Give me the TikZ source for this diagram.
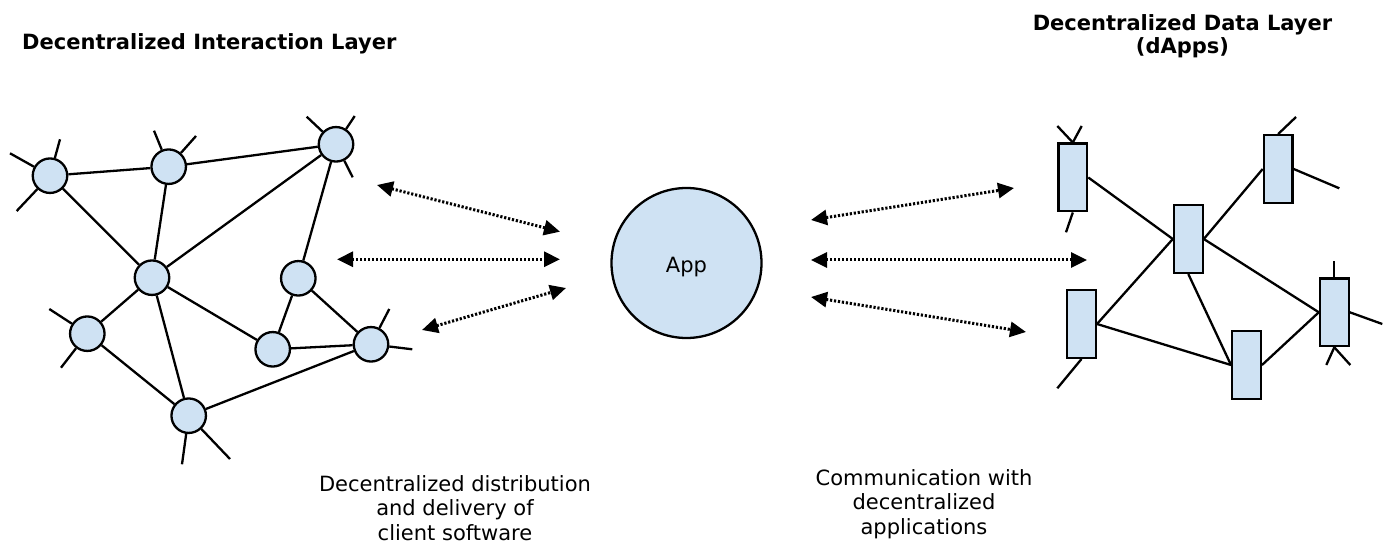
\documentclass[tikz,border=0pt]{standalone}
\usepackage{fontspec}
\setmainfont{DejaVu Sans}
\usetikzlibrary{arrows.meta}
\definecolor{nodefill}{RGB}{207,226,243}
\begin{document}
\begin{tikzpicture}[x=1pt,y=-1pt,
  peer/.style={circle,draw,line width=2.3pt,fill=nodefill,minimum size=34.5pt,inner sep=0pt},
  dnode/.style={rectangle,draw,line width=2.3pt,fill=nodefill,minimum width=28.7pt,minimum height=67.7pt,inner sep=0pt},
  link/.style={line width=2.3pt},
  flow/.style={line width=3pt,dash pattern=on 2.2pt off 1.8pt,{Triangle[length=16pt,width=15pt]}-{Triangle[length=16pt,width=15pt]}},
  title/.style={font=\fontsize{21}{23}\selectfont\bfseries,inner sep=0pt},
  caption/.style={font=\fontsize{21}{24.5}\selectfont,align=center,inner sep=0pt}]
\fill[white] (0,0) rectangle (1385,545);
\useasboundingbox (0,0) rectangle (1385,545);

% titles
\node[title,anchor=base west] (t1) at (22,50) {Decentralized Interaction Layer};
\node[title,align=center,anchor=north] (t2) at (1182.5,14) {Decentralized Data Layer\\(dApps)};

% left peer network
\node[peer] (A) at (50,175.7) {};
\node[peer] (B) at (168.7,166.7) {};
\node[peer] (C) at (336,144.3) {};
\node[peer] (D) at (152,277.7) {};
\node[peer] (E) at (298.3,278.3) {};
\node[peer] (F) at (87.3,333.7) {};
\node[peer] (G) at (272.7,349.3) {};
\node[peer] (H) at (371,344.3) {};
\node[peer] (I) at (188.7,415.7) {};

\draw[link] (A) -- (B);
\draw[link] (B) -- (C);
\draw[link] (A) -- (D);
\draw[link] (B) -- (D);
\draw[link] (C) -- (D);
\draw[link] (C) -- (E);
\draw[link] (D) -- (F);
\draw[link] (D) -- (G);
\draw[link] (D) -- (I);
\draw[link] (E) -- (G);
\draw[link] (E) -- (H);
\draw[link] (G) -- (H);
\draw[link] (F) -- (I);
\draw[link] (I) -- (H);

% stubs of the left network
\coordinate (a1) at (10,153.3);
\coordinate (a2) at (60,139.3);
\coordinate (a3) at (16.7,211);
\coordinate (b1) at (154,130.7);
\coordinate (b2) at (196,136);
\coordinate (c1) at (306.7,116.7);
\coordinate (c2) at (354.7,116);
\coordinate (c3) at (352.7,177.3);
\coordinate (f1) at (49.3,309);
\coordinate (f2) at (61,367.7);
\coordinate (h1) at (389.3,309);
\coordinate (h2) at (412.3,349.3);
\coordinate (i1) at (182,464.3);
\coordinate (i2) at (230,459);
\draw[link] (A) -- (a1);
\draw[link] (A) -- (a2);
\draw[link] (A) -- (a3);
\draw[link] (B) -- (b1);
\draw[link] (B) -- (b2);
\draw[link] (C) -- (c1);
\draw[link] (C) -- (c2);
\draw[link] (C) -- (c3);
\draw[link] (F) -- (f1);
\draw[link] (F) -- (f2);
\draw[link] (H) -- (h1);
\draw[link] (H) -- (h2);
\draw[link] (I) -- (i1);
\draw[link] (I) -- (i2);

% app
\node[circle,draw,line width=2.3pt,fill=nodefill,minimum size=150pt,inner sep=0pt,
      font=\fontsize{21}{24}\selectfont] (app) at (686.5,263) {\raisebox{-10pt}[0pt][0pt]{App}};

% right data network
\node[dnode] (R1) at (1072.8,177.5) {};
\node[dnode] (R2) at (1278.2,169) {};
\node[dnode] (R3) at (1188.3,239) {};
\node[dnode] (R4) at (1081.5,324) {};
\node[dnode] (R5) at (1246.5,365) {};
\node[dnode] (R6) at (1334.3,312.3) {};

\draw[link] (R1.east) -- (R3.west);
\draw[link] (R3.east) -- (R2.west);
\draw[link] (R3.west) -- (R4.east);
\draw[link] (R3.south) -- (R5.west);
\draw[link] (R3.east) -- (R6.west);
\draw[link] (R4.east) -- (R5.west);
\draw[link] (R5.east) -- (R6.west);

\coordinate (s1) at (1057.3,126);
\coordinate (s2) at (1081.7,126);
\coordinate (s3) at (1066,232.3);
\coordinate (s4) at (1296,117);
\coordinate (s5) at (1339.3,188.3);
\coordinate (s6) at (1057.3,388.3);
\coordinate (s7) at (1334.3,261.3);
\coordinate (s8) at (1382.3,324);
\coordinate (s9) at (1326.3,365);
\coordinate (s10) at (1350.3,365);
\draw[link] (R1.north) -- (s1);
\draw[link] (R1.north) -- (s2);
\draw[link] (R1.south) -- (s3);
\draw[link] (R2.north) -- (s4);
\draw[link] (R2.east) -- (s5);
\draw[link] (R4.south) -- (s6);
\draw[link] (R6.north) -- (s7);
\draw[link] (R6.east) -- (s8);
\draw[link] (R6.south) -- (s9);
\draw[link] (R6.south) -- (s10);

% flows
\coordinate (l1a) at (377,185);
\coordinate (l1b) at (560,231.7);
\coordinate (l2a) at (337,259.3);
\coordinate (l2b) at (560,259.3);
\coordinate (l3a) at (422,330);
\coordinate (l3b) at (566,288);
\coordinate (r1a) at (811,220);
\coordinate (r1b) at (1014,188);
\coordinate (r2a) at (811,260);
\coordinate (r2b) at (1087,260);
\coordinate (r3a) at (811,297);
\coordinate (r3b) at (1026,332);
\draw[flow] (l1a) -- (l1b);
\draw[flow] (l2a) -- (l2b);
\draw[flow] (l3a) -- (l3b);
\draw[flow] (r1a) -- (r1b);
\draw[flow] (r2a) -- (r2b);
\draw[flow] (r3a) -- (r3b);

% captions
\node[caption,anchor=north] (cap1) at (455,475) {Decentralized distribution\\and delivery of\\client software};
\node[caption,anchor=north] (cap2) at (924,469) {Communication with\\decentralized\\applications};
\end{tikzpicture}
\end{document}
